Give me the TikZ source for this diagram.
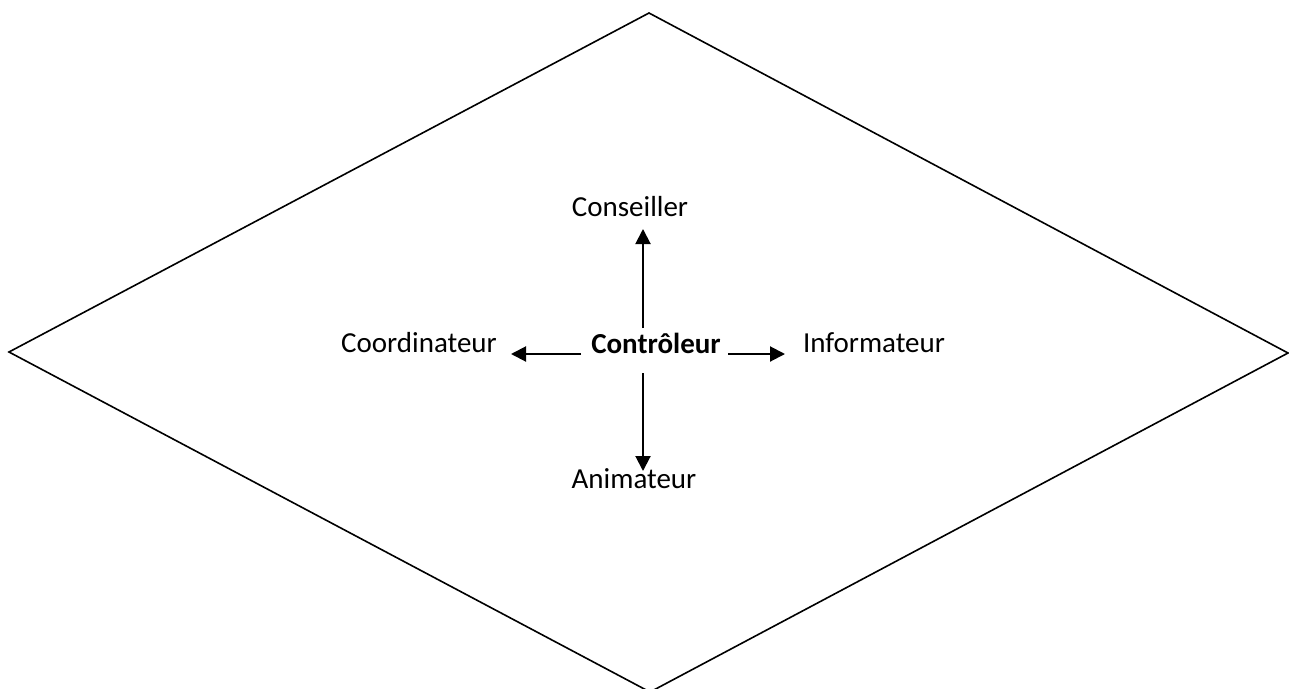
\documentclass[tikz,border=0pt]{standalone}
\usepackage{fontspec}
\setmainfont{Carlito}
\usetikzlibrary{arrows.meta}
\begin{document}
\begin{tikzpicture}[x=1pt,y=-1pt,
  lbl/.style={inner sep=0pt,font=\fontsize{29}{35}\selectfont},
  rolearrow/.style={line width=2pt,-{Triangle[length=15pt,width=15pt]}}]
\useasboundingbox (0,0) rectangle (1289,688);
% outer diamond
\draw[line width=1.6pt,line join=miter]
  (9,352) -- (649,13) -- (1288,353) -- (650,692) -- cycle;
% role labels
\node[lbl] (ctrl) at (656,343) {\textbf{Contrôleur}};
\node[lbl] (cons) at (630,207) {Conseiller};
\node[lbl] (coord) at (419,343) {Coordinateur};
\node[lbl] (info) at (874,343) {Informateur};
\node[lbl] (anim) at (634,479) {Animateur};
% arrow endpoints around the central label
\coordinate (upS) at (643,328);
\coordinate (upT) at (643,229);
\coordinate (dnS) at (643,373);
\coordinate (dnT) at (643,471);
\coordinate (lfS) at (581,354);
\coordinate (lfT) at (511,354);
\coordinate (rtS) at (728,354);
\coordinate (rtT) at (785,354);
\draw[rolearrow] (upS) -- (upT);
\draw[rolearrow] (dnS) -- (dnT);
\draw[rolearrow] (lfS) -- (lfT);
\draw[rolearrow] (rtS) -- (rtT);
\end{tikzpicture}
\end{document}
